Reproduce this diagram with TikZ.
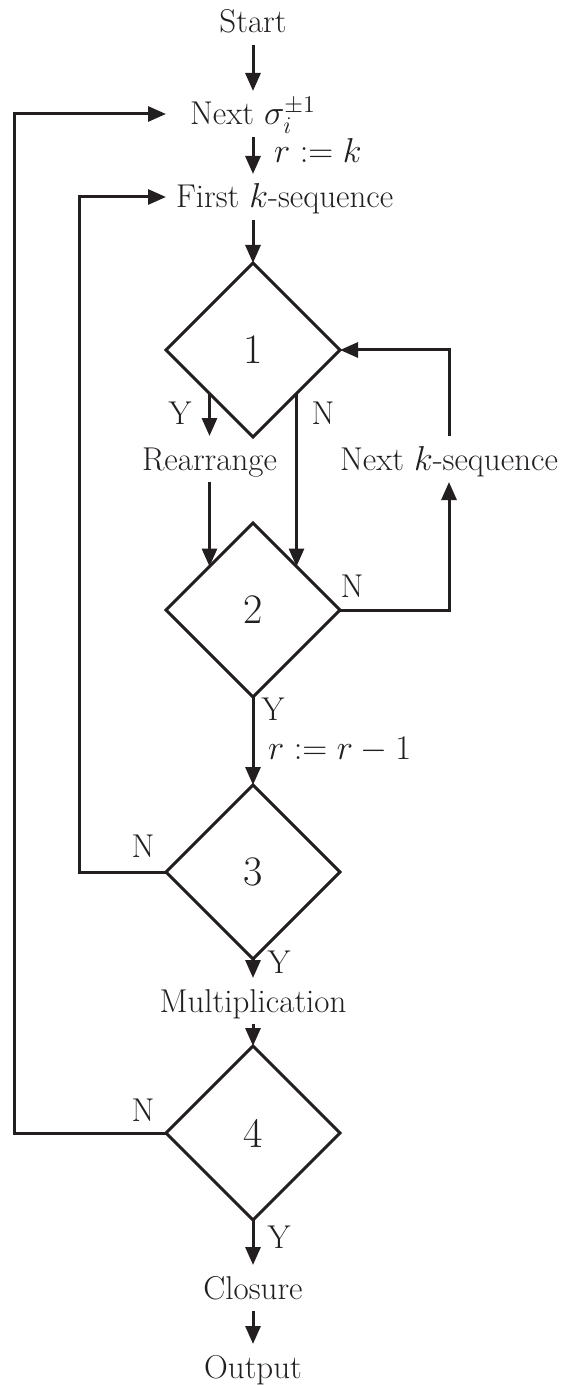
\documentclass[tikz,border=0pt]{standalone}
\usetikzlibrary{shapes.geometric,arrows.meta}
\definecolor{ink}{RGB}{35,31,32}
\begin{document}
\begin{tikzpicture}[x=0.5pt,y=-0.5pt,
  font=\fontsize{16.5}{20}\selectfont,
  line width=1.5pt, draw=ink, text=ink,
  txt/.style={inner sep=2pt, text height=15pt, text depth=4pt, outer sep=0pt},
  lbl/.style={inner sep=0pt, outer sep=0pt},
  dia/.style={draw=ink, diamond, aspect=1, minimum width=87pt, minimum height=87pt, inner sep=0pt, outer sep=0pt, font=\fontsize{21}{24}\selectfont},
  arr/.style={draw=ink, -{Triangle[length=9pt,width=7.5pt]}, line join=miter}
]
\useasboundingbox (0,0) rectangle (561,1385);
% main nodes
\node[txt, anchor=base] (start) at (253,33) {Start};
\node[txt, anchor=base] (next) at (253,125) {Next $\sigma_i^{\pm1}$};
\node[txt, anchor=base west] (first) at (172,208) {First $k$-sequence};
\node[dia] (d1) at (253,350) {1};
\node[txt, anchor=base] (rearr) at (209.5,470) {Rearrange};
\node[txt, anchor=base] (nextk) at (449,470) {Next $k$-sequence};
\node[dia] (d2) at (253,610) {2};
\node[dia] (d3) at (253,872) {3};
\node[txt, anchor=base] (mult) at (253,1012) {Multiplication};
\node[dia] (d4) at (253,1133) {4};
\node[txt, anchor=base] (clos) at (253,1299) {Closure};
\node[txt, anchor=base] (out) at (253,1378) {Output};
% labels
\node[lbl, anchor=base west] (rk) at (274,163) {$r := k$};
\node[lbl, anchor=base] (y1) at (180,424) {Y};
\node[lbl, anchor=base] (n1) at (323,424) {N};
\node[lbl, anchor=base] (n2) at (352,597) {N};
\node[lbl, anchor=base] (y2) at (273,720) {Y};
\node[lbl, anchor=base west] (rr) at (268,759) {$r := r-1$};
\node[lbl, anchor=base] (n3) at (143,857) {N};
\node[lbl, anchor=base] (y3) at (279,973) {Y};
\node[lbl, anchor=base] (n4) at (143,1121) {N};
\node[lbl, anchor=base] (y4) at (279,1248) {Y};
% loop columns
\coordinate (c1) at (14,0);
\coordinate (c2) at (79,0);
% connectors
\draw[arr] (start) -- (next);
\draw[arr] (next.south) -- (next.south |- first.north);
\draw[arr] (first.south -| next) -- (d1.north);
\draw[arr] (d1.south west) -- (d1.south west |- rearr.north);
\draw[arr] (rearr.south) -- (d2.north west);
\draw[arr] (d1.south east) -- (d2.north east);
\draw[arr] (d2.east) -| (nextk.south);
\draw[arr] (nextk.north) |- (d1.east);
\draw[arr] (d2.south) -- (d3.north);
\draw[arr] (d3.south) -- (mult.north);
\draw[arr] (mult.south) -- (d4.north);
\draw[arr] (d4.south) -- (clos.north);
\draw[arr] (clos.south) -- (out.north);
\draw[arr] (d3.west) -| (c2 |- first) -- (d1.west |- first);
\draw[arr] (d4.west) -| (c1 |- next) -- (d1.west |- next);
\end{tikzpicture}
\end{document}
